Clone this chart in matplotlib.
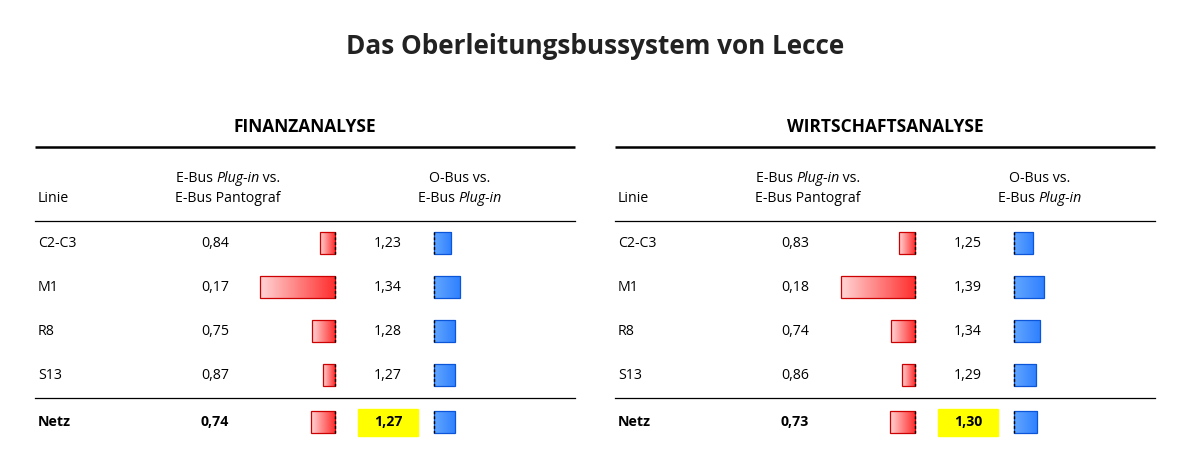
import numpy as np
import matplotlib
matplotlib.use("Agg")
import matplotlib.pyplot as plt
from matplotlib.colors import LinearSegmentedColormap

# data
lines = ["C2-C3", "M1", "R8", "S13"]
net_label = "Netz"
fin_plugin = [0.84, 0.17, 0.75, 0.87]
fin_obus = [1.23, 1.34, 1.28, 1.27]
fin_net = [0.74, 1.27]
wirt_plugin = [0.83, 0.18, 0.74, 0.86]
wirt_obus = [1.25, 1.39, 1.34, 1.29]
wirt_net = [0.73, 1.30]
panels = ["FINANZANALYSE", "WIRTSCHAFTSANALYSE"]

plt.rcParams['font.family'] = ['Open Sans', 'DejaVu Sans']
FS = 10.2

W, H = 1191, 473
fig = plt.figure(figsize=(W / 100, H / 100), dpi=100)
ax = fig.add_axes([0, 0, 1, 1])
ax.set_xlim(0, W)
ax.set_ylim(H, 0)
ax.axis("off")
renderer = fig.canvas.get_renderer()

red_cmap = LinearSegmentedColormap.from_list("r", ["#ffd4d4", "#ff3030"])
blue_cmap = LinearSegmentedColormap.from_list("b", ["#62a6ff", "#2f80ff"])
grad = np.linspace(0, 1, 64).reshape(1, -1)


def rich_text(x, y, parts, **kw):
    # parts: list of (text, style); centered at x
    objs = []
    for s, style in parts:
        t = ax.text(0, y, s, style=style, va="center", ha="left", fontsize=FS, **kw)
        objs.append(t)
    widths = []
    inv = ax.transData.inverted()
    for t in objs:
        bb = t.get_window_extent(renderer)
        p0 = inv.transform((bb.x0, bb.y0))
        p1 = inv.transform((bb.x1, bb.y0))
        widths.append(p1[0] - p0[0])
    total = sum(widths)
    cur = x - total / 2
    for t, w in zip(objs, widths):
        t.set_x(cur)
        cur += w


def gradient_bar(y, anchor, width, cmap, edge):
    bars = ax.barh([y], [width], left=anchor, height=21.5, color="none",
                   edgecolor=edge, linewidth=0.9, zorder=3)
    p = bars.patches[0]
    x0, x1 = sorted([anchor, anchor + width])
    im = ax.imshow(grad, cmap=cmap, extent=[x0, x1, y + 10.75, y - 10.75],
                   aspect="auto", zorder=2)
    im.set_clip_path(p)
    ax.vlines(anchor, y - 10.75, y + 10.75, colors="black", linestyles=(0, (2, 1.5)),
              linewidth=1.0, zorder=4)


ax.text(W / 2, 47, "Das Oberleitungsbussystem von Lecce", ha="center", va="center",
        fontsize=18.8, fontweight="bold", color="#222222")

row_y = [243, 287, 331, 375]
net_y = 422
red_scale = 90
blue_scale = 78

datasets = [(fin_plugin, fin_obus, fin_net), (wirt_plugin, wirt_obus, wirt_net)]
for k, (title, (plug, obus, net)) in enumerate(zip(panels, datasets)):
    dx = 580 * k
    ax.text(305 + dx, 127, title, ha="center", va="center", fontsize=12.5,
            fontweight="bold", color="black")
    ax.plot([35 + dx, 575 + dx], [147, 147], color="black", lw=1.8, solid_capstyle="butt")
    ax.plot([35 + dx, 575 + dx], [220.5, 220.5], color="black", lw=0.9)
    ax.plot([35 + dx, 575 + dx], [397.5, 397.5], color="black", lw=0.9)

    ax.text(38 + dx, 198, "Linie", ha="left", va="center", fontsize=FS)
    rich_text(228 + dx, 178, [("E-Bus ", "normal"), ("Plug-in", "italic"), (" vs.", "normal")])
    rich_text(228 + dx, 198, [("E-Bus Pantograf", "normal")])
    rich_text(460 + dx, 178, [("O-Bus vs.", "normal")])
    rich_text(460 + dx, 198, [("E-Bus ", "normal"), ("Plug-in", "italic")])

    red_anchor = 334.5 + dx
    blue_anchor = 433.5 + dx
    for name, y, a, b in zip(lines, row_y, plug, obus):
        ax.text(38 + dx, y, name, ha="left", va="center", fontsize=FS)
        ax.text(215 + dx, y, f"{a:.2f}".replace(".", ","), ha="center", va="center", fontsize=FS)
        ax.text(388 + dx, y, f"{b:.2f}".replace(".", ","), ha="center", va="center", fontsize=FS)
        gradient_bar(y, red_anchor, -(1 - a) * red_scale, red_cmap, "#cc0000")
        gradient_bar(y, blue_anchor, (b - 1) * blue_scale, blue_cmap, "#0a55d8")

    a, b = net
    ax.text(38 + dx, net_y, net_label, ha="left", va="center", fontsize=FS, fontweight="bold")
    ax.text(215 + dx, net_y, f"{a:.2f}".replace(".", ","), ha="center", va="center",
            fontsize=FS, fontweight="bold")
    ax.text(388 + dx, net_y, f"{b:.2f}".replace(".", ","), ha="center", va="center",
            fontsize=FS, fontweight="bold", zorder=5)
    ax.add_patch(plt.Rectangle((358 + dx, 409), 60, 26.5, color="#ffff00", zorder=1))
    gradient_bar(net_y, red_anchor, -(1 - a) * red_scale, red_cmap, "#cc0000")
    gradient_bar(net_y, blue_anchor, (b - 1) * blue_scale, blue_cmap, "#0a55d8")

fig.savefig("out.png", dpi=100)
